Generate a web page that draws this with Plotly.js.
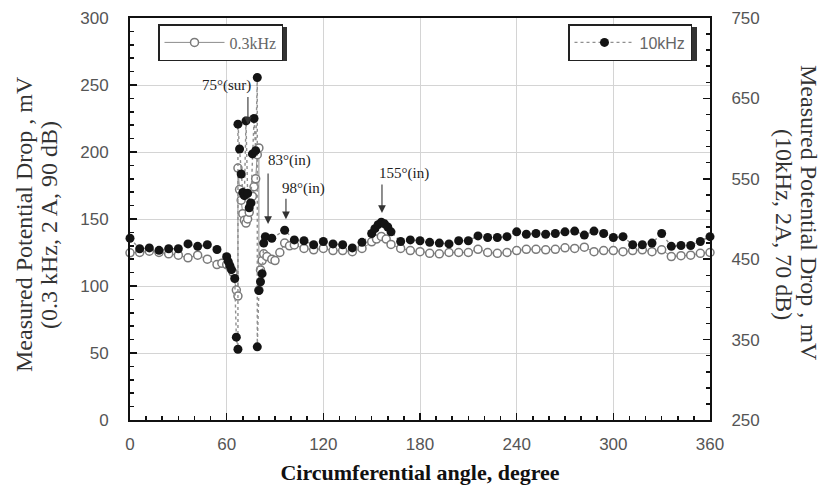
<!DOCTYPE html>
<html>
<head>
<meta charset="utf-8">
<script src="https://cdn.plot.ly/plotly-3.0.1.min.js"></script>
<style>
  html, body { margin: 0; padding: 0; background: #fff; }
  #chart { width: 825px; height: 493px; }
</style>
</head>
<body>
<div id="chart"></div>
<script>
// Potential drop measured around the circumference, two excitation frequencies.
const angleLow = [0,6,12,18,24,30,36,42,48,54,57,60,62,64,66,67,67,68,69,70,71,72,73,74,75,76,77,78,79,80,80,81,82,83,85,88,90,93,96,99,102,108,114,120,126,132,138,144,150,153,156,159,162,168,174,180,186,192,198,204,210,216,222,228,234,240,246,252,258,264,270,276,282,288,294,300,306,312,318,324,330,336,342,348,354,360];
const valueLow = [124.8,125,126,125,124,123,121,123,120,116,117,116,114,110,97,92.5,188,172,164,154,149,147,150,155,162,167,174,180,198,203,97,112,119,124,122,120,119,125,132,130,130.6,128,127,128,126.4,126.4,125.6,128,133,135,137,135,131,128,126.4,125.6,124.4,124,125,125,125,127.4,125,124.4,125,126.4,127.4,127.4,127,127.4,128.5,128,129,125.6,126.4,126.4,125.6,126.4,127,125.6,127,122,122.6,123,124.4,125];

const angleHigh = [0,6,12,18,24,30,36,42,48,54,60,61,62,63,65,66,67,67,68,69,70,71,72,73,74,75,76,77,78,79,79,80,81,82,83,84,88,96,102,108,114,120,126,132,138,144,150,152,154,156,158,160,162,168,174,180,186,192,198,204,210,216,222,228,234,240,246,252,258,264,270,276,282,288,294,300,306,312,318,324,330,336,342,348,354,360];
const valueHigh = [476,463,464,461,463,463,469,466,468,462,453,447,442,437,426,353,338,618,587,556,533,529,622,532,514,520,581,625,585,676,341,411,422,432,470,478,476,486,474,473,468,472,469,468,464,471,482,488,493,496,494,490,484,472,474,473,471,470,469,473,473,479,477,477,478,484,481,482,481,482,484,485,480,485,482,477,478,468,468,470,482,466,467,467,472,478];

const seriesNames = ['0.3kHz', '10kHz'];
const xTicks = [0, 60, 120, 180, 240, 300, 360];

// Defect markers: label, angle of the arrow tip, potential drop at the tip (left scale)
const markLabels = ['75°(sur)', '83°(in)', '98°(in)', '155°(in)'];
const markAngles = [73.2, 85.7, 96.8, 156.4];
const markTips = [220.5, 146.3, 149.9, 154.5];

const serif = 'Liberation Serif, Times New Roman, serif';
const sans = 'Liberation Sans, Arial, sans-serif';

const traces = [
  {
    x: angleLow, y: valueLow, name: seriesNames[0],
    type: 'scatter', mode: 'lines+markers', legend: 'legend', cliponaxis: false,
    line: { color: '#8c8c8c', width: 1 },
    marker: { symbol: 'circle', size: 8, color: '#ffffff', line: { color: '#7a7a7a', width: 1.5 } }
  },
  {
    x: angleHigh, y: valueHigh, name: seriesNames[1], yaxis: 'y2',
    type: 'scatter', mode: 'lines+markers', legend: 'legend2', cliponaxis: false,
    line: { color: '#8f8f8f', width: 1.4, dash: 'dot' },
    marker: { symbol: 'circle', size: 9, color: '#141414' }
  }
];

const annotations = [];
// arrows
const arrowTails = [-29, -52, -22, -30];
markAngles.forEach((a, i) => {
  annotations.push({
    x: a, y: markTips[i], xref: 'x', yref: 'y', text: '',
    showarrow: true, ax: 0, ay: arrowTails[i], arrowhead: 2, arrowsize: 1.4,
    arrowwidth: 1.1, arrowcolor: '#333', standoff: 0, startstandoff: 0
  });
});
// labels
const labelX = [60.2, 98.7, 107.4, 170];
const labelY = [249.3, 194, 173.1, 184.3];
markLabels.forEach((t, i) => {
  annotations.push({
    x: labelX[i], y: labelY[i], xref: 'x', yref: 'y', text: t, showarrow: false,
    xanchor: 'center', yanchor: 'middle',
    font: { family: serif, size: 15, color: '#222' }
  });
});
// vertical axis titles, one annotation per line
const titleFont = { family: serif, size: 24, color: '#333' };
annotations.push(
  { xref: 'paper', yref: 'paper', x: (24 - 130) / 580, y: (420 - 224) / 402, text: 'Measured Potential Drop , mV',
    textangle: -90, showarrow: false, xanchor: 'center', yanchor: 'middle', font: titleFont },
  { xref: 'paper', yref: 'paper', x: (49 - 130) / 580, y: (420 - 225) / 402, text: '(0.3 kHz, 2 A, 90 dB)',
    textangle: -90, showarrow: false, xanchor: 'center', yanchor: 'middle', font: titleFont },
  { xref: 'paper', yref: 'paper', x: (809 - 130) / 580, y: (420 - 213) / 402, text: 'Measured Potential Drop , mV',
    textangle: 90, showarrow: false, xanchor: 'center', yanchor: 'middle', font: titleFont },
  { xref: 'paper', yref: 'paper', x: (784 - 130) / 580, y: (420 - 224) / 402, text: '(10kHz, 2A, 70 dB)',
    textangle: 90, showarrow: false, xanchor: 'center', yanchor: 'middle', font: titleFont }
);

// drop shadows behind the two legend boxes
const px = v => (v - 130) / 580;
const py = v => (420 - v) / 402;
const shapes = [
  { type: 'rect', xref: 'paper', yref: 'paper', x0: px(161), x1: px(287), y0: py(61), y1: py(27),
    fillcolor: '#333', line: { width: 0 }, layer: 'above' },
  { type: 'rect', xref: 'paper', yref: 'paper', x0: px(571), x1: px(697), y0: py(61), y1: py(27),
    fillcolor: '#333', line: { width: 0 }, layer: 'above' }
];

const tickFont = { family: sans, size: 17, color: '#555' };

const layout = {
  width: 825, height: 493,
  margin: { l: 130, r: 115, t: 18, b: 73 },
  paper_bgcolor: '#fff', plot_bgcolor: '#fff',
  showlegend: true,
  legend: {
    x: px(158), y: py(24), xanchor: 'left', yanchor: 'top',
    bgcolor: '#fff', bordercolor: '#222', borderwidth: 1.5,
    font: { family: serif, size: 16, color: '#666' }, itemwidth: 60
  },
  legend2: {
    x: px(568), y: py(24), xanchor: 'left', yanchor: 'top',
    bgcolor: '#fff', bordercolor: '#222', borderwidth: 1.5,
    font: { family: sans, size: 16, color: '#666' }, itemwidth: 60
  },
  xaxis: {
    range: [0, 360], tickmode: 'array', tickvals: xTicks, ticktext: xTicks.map(String),
    ticks: 'inside', ticklen: 7, tickwidth: 1.5, tickcolor: '#111',
    minor: { tickmode: 'linear', tick0: 0, dtick: 10, ticks: 'inside', ticklen: 4, tickcolor: '#111', showgrid: false },
    showgrid: true, gridcolor: '#d4d4d4', gridwidth: 1, zeroline: false,
    showline: true, linecolor: '#111', linewidth: 2, mirror: true,
    tickfont: tickFont, ticklabelstandoff: 8,
    title: { text: 'Circumferential angle, degree', font: { family: serif, size: 22, color: '#111', weight: 'bold' }, standoff: 11 }
  },
  yaxis: {
    range: [0, 300], tickmode: 'linear', tick0: 0, dtick: 50,
    ticks: 'inside', ticklen: 7, tickwidth: 1.5, tickcolor: '#111',
    minor: { tickmode: 'linear', tick0: 0, dtick: 10, ticks: 'inside', ticklen: 4, tickcolor: '#111', showgrid: false },
    showgrid: true, gridcolor: '#d4d4d4', gridwidth: 1, zeroline: false,
    showline: true, linecolor: '#111', linewidth: 2,
    tickfont: tickFont, ticklabelstandoff: 16
  },
  yaxis2: {
    overlaying: 'y', side: 'right', range: [250, 750], tickmode: 'linear', tick0: 250, dtick: 100,
    ticks: 'inside', ticklen: 7, tickwidth: 1.5, tickcolor: '#111',
    minor: { tickmode: 'linear', tick0: 250, dtick: 20, ticks: 'inside', ticklen: 4, tickcolor: '#111', showgrid: false },
    showgrid: false, zeroline: false,
    showline: true, linecolor: '#111', linewidth: 2,
    tickfont: tickFont, ticklabelstandoff: 16
  },
  annotations: annotations,
  shapes: shapes
};

Plotly.newPlot('chart', traces, layout, { staticPlot: true, displayModeBar: false });
</script>
</body>
</html>
